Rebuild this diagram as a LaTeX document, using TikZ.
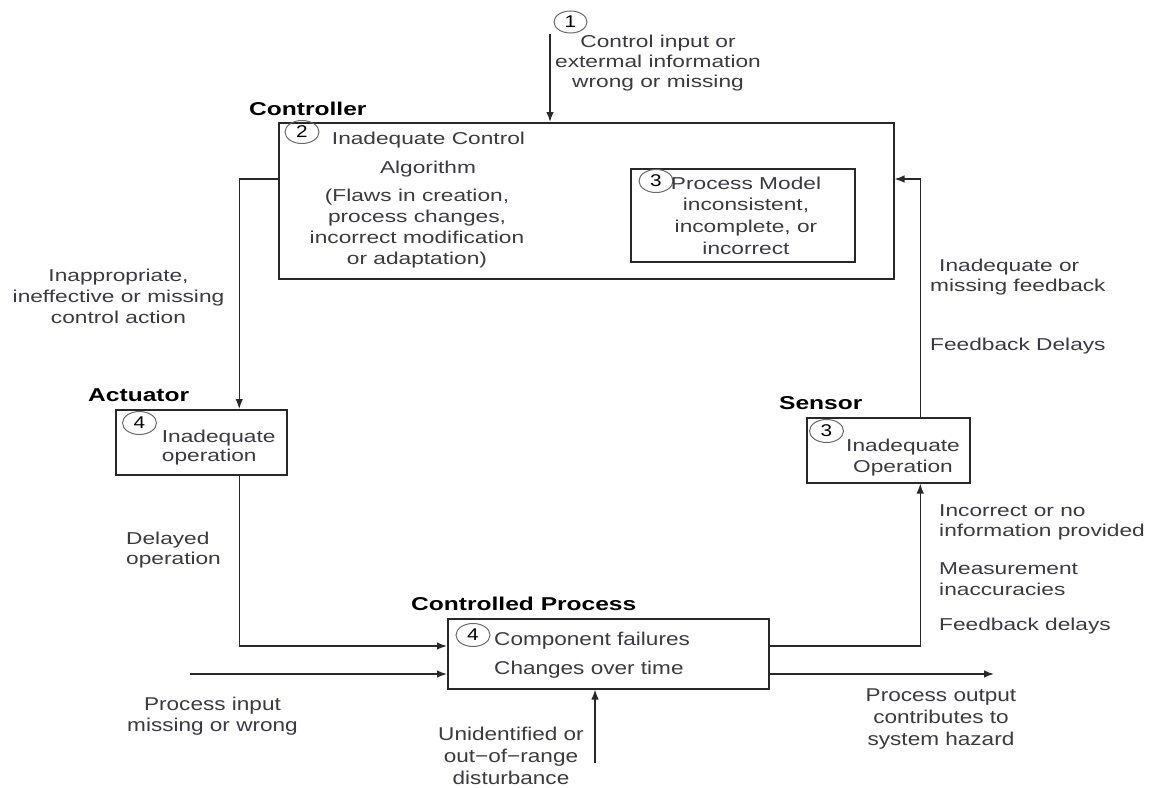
\documentclass[tikz,border=0pt]{standalone}
\usepackage{fontspec}
\setmainfont{Liberation Sans}
\newfontfamily\wideface{Liberation Sans}[FakeStretch=1.32]
\newfontfamily\midface{Liberation Sans}[FakeStretch=1.22]
\newfontfamily\headface{Liberation Sans Bold}[FakeStretch=1.32]
\usetikzlibrary{arrows.meta,shapes.geometric}
\definecolor{inkc}{RGB}{58,58,66}
\definecolor{linec}{RGB}{40,40,40}
\definecolor{ringc}{RGB}{105,105,105}

\begin{document}
\begin{tikzpicture}[x=1pt,y=-1pt,
  frame/.style={draw=linec, line width=1.5pt, inner sep=0, anchor=north west},
  flow/.style={draw=linec, line width=1.5pt, -{Latex[length=10pt,width=7.5pt]}},
  lbl/.style={text=inkc, inner sep=0, align=center, font=\wideface\fontsize{17.2}{21}\selectfont},
  lbll/.style={lbl, align=left, anchor=west},
  lbln/.style={text=inkc, inner sep=0, align=center, font=\midface\fontsize{18.5}{22}\selectfont},
  head/.style={text=black, inner sep=0, anchor=west, font=\headface\fontsize{18.6}{22}\selectfont},
  badge/.style={ellipse, draw=ringc, line width=1pt, inner sep=0, minimum width=34pt, minimum height=23pt,
    text=black, font=\midface\fontsize{17}{17}\selectfont}]
\useasboundingbox (0,0) rectangle (1161,787);
\fill[white] (0,0) rectangle (1161,787);

% ---------- controller ----------
\node[head] (ctrlhead) at (249,108.5) {Controller};
\node[frame, minimum width=615pt, minimum height=156pt] (ctrl) at (278,122) {};
\node[badge] (b2) at (302,132) {2};
\node[lbl] (ica) at (428.5,140) {Inadequate Control};
\node[lbl] (icb) at (428,169) {Algorithm};
\node[lbl] (icc) at (417,228.5)
  {(Flaws in creation,\\process changes,\\incorrect modification\\or adaptation)};
\node[frame, minimum width=224pt, minimum height=93pt] (pm) at (630,168) {};
\node[badge] (b3a) at (656,181) {3};
\node[lbl, font=\wideface\fontsize{17.2}{21.7}\selectfont] (pmt) at (746,215.5)
  {Process Model\\inconsistent,\\incomplete, or\\incorrect};

% ---------- external input ----------
\node[badge, minimum width=33pt, minimum height=22pt] (b1) at (570.5,22) {1};
\node[lbl, font=\wideface\fontsize{17.2}{20}\selectfont] (extin) at (658,63)
  {Control input or\\extermal information\\wrong or missing};
\coordinate (topin) at (550,34);

% ---------- actuator ----------
\node[head] (acthead) at (88,395) {Actuator};
\node[frame, minimum width=171pt, minimum height=65pt] (act) at (115,409) {};
\node[badge] (b4a) at (139.5,423) {4};
\node[lbl, align=left, font=\wideface\fontsize{17.2}{19}\selectfont] (actt) at (218.75,447.5)
  {Inadequate\\operation};

% ---------- sensor ----------
\node[head] (senshead) at (779,403) {Sensor};
\node[frame, minimum width=163pt, minimum height=65pt] (sens) at (806,417) {};
\node[badge] (b3b) at (826.5,431) {3};
\node[lbl] (senst) at (903,457.5) {Inadequate\\Operation};

% ---------- controlled process ----------
\node[head] (prochead) at (411,604) {Controlled Process};
\node[frame, minimum width=321pt, minimum height=70pt] (proc) at (447,618) {};
\node[badge] (b4b) at (473,635) {4};
\node[lbln, anchor=west] (pf1) at (494,641) {Component failures};
\node[lbln, anchor=west] (pf2) at (494,670) {Changes over time};

% ---------- connectors ----------
\coordinate (yctl) at (0,179);
\coordinate (yfb) at (0,646);
\coordinate (inl) at (190,674);
\coordinate (outr) at (994,674);
\coordinate (dist) at (595,763);

\draw[flow] (topin) -- (topin |- ctrl.north);
\draw[flow] (ctrl.west |- yctl) -| ([xshift=38pt]act.north);
\draw[flow] ([xshift=38pt]act.south) |- (proc.west |- yfb);
\draw[flow] (proc.east |- yfb) -| ([xshift=32pt]sens.south);
\draw[flow] ([xshift=32pt]sens.north) |- (ctrl.east |- yctl);
\draw[flow] (inl) -- (inl -| proc.west);
\draw[flow] (outr -| proc.east) -- (outr);
\draw[flow] (dist) -- (dist |- proc.south);

% ---------- connector labels ----------
\node[lbl] (ca) at (118.5,296) {Inappropriate,\\ineffective or missing\\control action};
\node[lbll, font=\wideface\fontsize{17.2}{20}\selectfont] (dl) at (126,550) {Delayed\\operation};
\node[lbll, font=\wideface\fontsize{17.2}{20}\selectfont] (fb1) at (930,277) {\hspace*{9pt}Inadequate or\\missing feedback};
\node[lbll] (fb2) at (930,346) {Feedback Delays};
\node[lbll, font=\wideface\fontsize{17.2}{20}\selectfont] (fb3) at (939,522) {Incorrect or no\\information provided};
\node[lbll] (fb4) at (939,579) {Measurement\\inaccuracies};
\node[lbll] (fb5) at (939,626) {Feedback delays};
\node[lbln, font=\midface\fontsize{18.5}{21}\selectfont] (pin) at (212.5,716) {Process input\\missing or wrong};
\node[lbln] (pout) at (941,719.5) {Process output\\contributes to\\system hazard};
\node[lbln] (dis) at (511,755.5) {Unidentified or\\out−of−range\\disturbance};
\end{tikzpicture}
\end{document}
